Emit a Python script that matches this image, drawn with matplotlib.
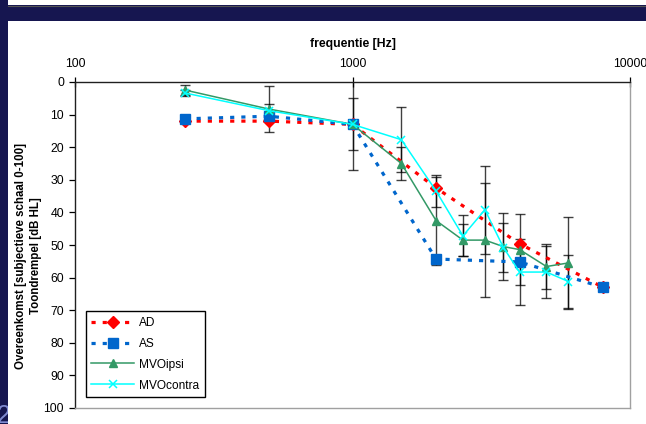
import matplotlib
matplotlib.use('Agg')
import matplotlib.pyplot as plt
from matplotlib.patches import Rectangle
from matplotlib.lines import Line2D
from matplotlib.ticker import NullLocator

plt.rcParams['font.family'] = ['Liberation Sans', 'DejaVu Sans']

# data
freq_ad = [250, 500, 1000, 2000, 4000, 8000]
ad = [12, 12, 13, 32.5, 49.6, 63]
freq_as = [250, 500, 1000, 2000, 4000, 8000]
as_ = [11.3, 10.5, 13, 54.3, 55.2, 63]
freq_mvo = [250, 500, 1000, 1500, 2000, 2500, 3000, 3500, 4000, 5000, 6000]
ipsi = [2.5, 8.3, 13, 25, 42.5, 48.5, 48.5, 50.5, 51.4, 56.6, 55.5]
ipsi_err = [1.5, 7, 14, 5, 13.5, 5, 17.5, 10.3, 11, 6.8, 14]
contra = [3.4, 8.8, 13, 17.7, 33.4, 47.2, 39.2, 50.8, 58.3, 58.3, 61.2]
contra_err = [0.8, 2, 8, 10, 4.8, 6.3, 13.5, 7.4, 10, 8, 8]

W, H = 646, 424
fig = plt.figure(figsize=(W / 100, H / 100), dpi=100)
fig.patch.set_facecolor('#161650')

# slide background pieces (slide number "2" partly hidden behind the white area)
fig.text(-3 / W, (H - 423) / H, '2', color='#7f8ad0', fontsize=18, zorder=-3)
fig.add_artist(Rectangle((8 / W, 0), 1, (H - 21) / H, transform=fig.transFigure,
                         facecolor='white', edgecolor='none', zorder=-1))
fig.add_artist(Rectangle((8 / W, (H - 5) / H), 1, 5 / H, transform=fig.transFigure,
                         facecolor='white', edgecolor='none', zorder=-1))
fig.add_artist(Line2D([8 / W, 1], [(H - 5.5) / H] * 2, transform=fig.transFigure,
                      color='#555555', lw=0.8, zorder=-1))

ax = fig.add_axes([75 / W, 16 / H, 555 / W, 326 / H])

# error bars
ax.errorbar(freq_mvo, ipsi, yerr=ipsi_err, fmt='none', ecolor='black', alpha=0.75,
            elinewidth=1, capsize=3.5, capthick=1, zorder=2)
ax.errorbar(freq_mvo, contra, yerr=contra_err, fmt='none', ecolor='black', alpha=0.75,
            elinewidth=1, capsize=3.5, capthick=1, zorder=2)

ax.plot(freq_ad, ad, color='#ff0000', lw=2.3, ls=(0, (1.3, 2.2)), marker='D', ms=6.5,
        mec='#ff0000', label='AD', zorder=4)
ax.plot(freq_as, as_, color='#0066cc', lw=2.3, ls=(0, (1.3, 2.2)), marker='s', ms=7.5,
        mec='#0066cc', label='AS', zorder=5)
ax.plot(freq_mvo, ipsi, color='#339966', lw=1.1, marker='^', ms=5.5, mec='#339966',
        label='MVOipsi', zorder=6)
ax.plot(freq_mvo, contra, color='#00ffff', lw=1.1, marker='x', ms=5.5, mew=1.1,
        label='MVOcontra', zorder=7)

ax.set_xscale('log')
ax.set_xlim(100, 10000)
ax.set_ylim(100, 0)
ax.xaxis.tick_top()
ax.xaxis.set_label_position('top')
ax.set_xticks([100, 1000, 10000])
ax.set_xticklabels(['100', '1000', '10000'])
ax.xaxis.set_minor_locator(NullLocator())
ax.set_yticks(range(0, 101, 10))

ax.tick_params(axis='x', direction='inout', length=7, width=0.9, pad=5,
               labelsize=8.8, colors='black')
ax.tick_params(axis='y', direction='out', length=4, width=0.9, pad=4,
               labelsize=8.8)
ax.set_xlabel('frequentie [Hz]', fontsize=8.8, fontweight='bold', labelpad=8)

for s in ['top', 'left']:
    ax.spines[s].set_color('#202020')
    ax.spines[s].set_linewidth(1)
for s in ['right', 'bottom']:
    ax.spines[s].set_color('#a0a0a0')
    ax.spines[s].set_linewidth(1)

fig.text(28.5 / W, (H - 256) / H,
         'Overeenkomst [subjectieve schaal 0-100]\nToondrempel [dB HL]',
         rotation=90, ha='center', va='center', multialignment='center',
         fontsize=8.3, fontweight='bold', linespacing=1.25)

leg = ax.legend(loc='lower left', bbox_to_anchor=(0.0198, 0.0337), borderaxespad=0,
                fontsize=8.6, numpoints=1, handlelength=3.6, handletextpad=0.4,
                labelspacing=0.75, borderpad=0.45, fancybox=False,
                edgecolor='black', framealpha=1)
leg.get_frame().set_linewidth(1)

fig.savefig('out.png', dpi=100, facecolor=fig.get_facecolor())
